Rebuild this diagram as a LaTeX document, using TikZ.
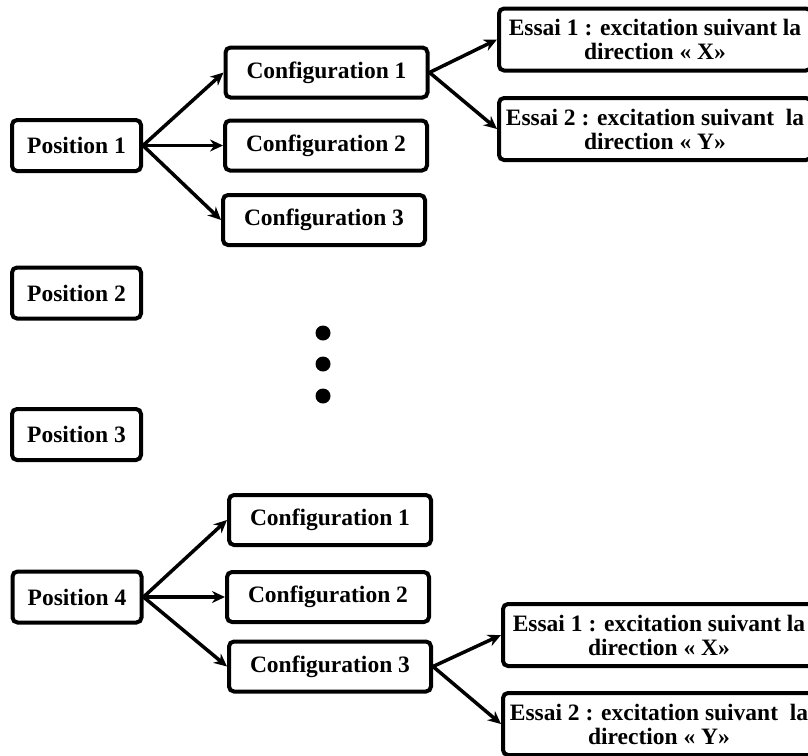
\documentclass[tikz,border=0pt]{standalone}
\usepackage{fontspec}
\setmainfont{Liberation Serif}
\usetikzlibrary{arrows.meta}
\begin{document}
\begin{tikzpicture}[x=1pt,y=-1pt,
  box/.style={draw, line width=4pt, rounded corners=5pt, fill=white, inner sep=0pt,
    font=\bfseries\fontsize{23.5}{24}\selectfont, align=center},
  posbox/.style={box, minimum width=129pt, minimum height=51pt},
  confbox/.style={box, minimum width=202pt, minimum height=50pt},
  essaibox/.style={box, minimum width=312pt, minimum height=62pt},
  arr/.style={line width=3.5pt, -{Stealth[length=13pt,width=12pt]}},
  dotmark/.style={circle, fill=black, inner sep=0pt, minimum size=15pt}]
\useasboundingbox (0,0) rectangle (808,755);
\clip (0,0) rectangle (808,755);

% top group
\node[posbox] (p1) at (76.5,145.5) {Position 1};
\node[confbox] (tc1) at (326.5,72.5) {Configuration 1};
\node[confbox] (tc2) at (326,145.5) {Configuration 2};
\node[confbox] (tc3) at (324,220) {Configuration 3};
\node[essaibox] (te1) at (655,39.5) {Essai 1 : excitation suivant la\\direction « X»};
\node[essaibox] (te2) at (655,129) {Essai 2 : excitation suivant\ \ la\\direction « Y»};

\draw[arr] (p1.east) -- (tc1.west);
\draw[arr] (p1.east) -- (tc2.west);
\draw[arr] (p1.east) -- (tc3.west);
\draw[arr] (tc1.east) -- (te1.west);
\draw[arr] (tc1.east) -- (te2.west);

% middle
\node[posbox] (p2) at (76.5,293) {Position 2};
\node[posbox] (p3) at (76.5,434.5) {Position 3};
\node[dotmark] (d1) at (323,333) {};
\node[dotmark] (d2) at (323,364) {};
\node[dotmark] (d3) at (323,396) {};

% bottom group
\node[posbox] (p4) at (77,597) {Position 4};
\node[confbox] (bc1) at (330,520) {Configuration 1};
\node[confbox] (bc2) at (328,597) {Configuration 2};
\node[confbox] (bc3) at (330,666.5) {Configuration 3};
\node[essaibox] (be1) at (659,635) {Essai 1 : excitation suivant la\\direction « X»};
\node[essaibox] (be2) at (659,724) {Essai 2 : excitation suivant\ \ la\\direction « Y»};

\draw[arr] (p4.east) -- (bc1.west);
\draw[arr] (p4.east) -- (bc2.west);
\draw[arr] (p4.east) -- (bc3.west);
\draw[arr] (bc3.east) -- (be1.west);
\draw[arr] (bc3.east) -- (be2.west);
\end{tikzpicture}
\end{document}
